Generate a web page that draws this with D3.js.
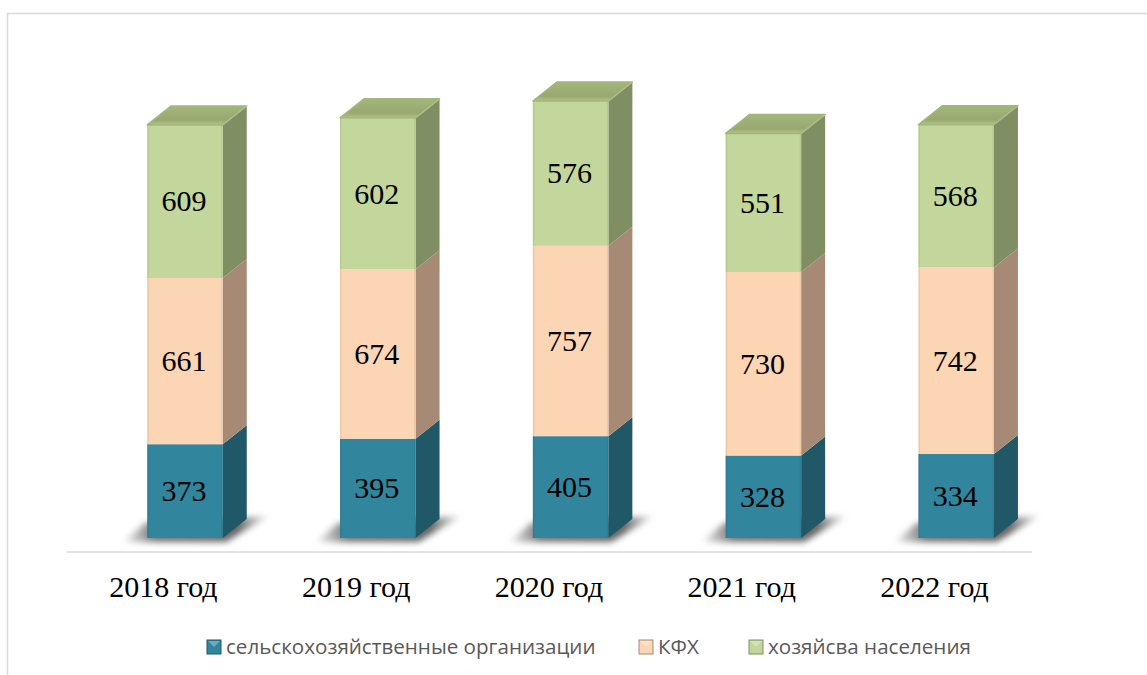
<!DOCTYPE html>
<html><head><meta charset="utf-8">
<script src="https://cdn.jsdelivr.net/npm/d3@7"></script>
<style>html,body{margin:0;padding:0;background:#fff;overflow:hidden}</style>
</head><body><svg id="c" width="1147" height="675"></svg>
<script>
const years = ["2018 год","2019 год","2020 год","2021 год","2022 год"];
const seriesNames = ["сельскохозяйственные организации","КФХ","хозяйсва населения"];
const orgValues = [373,395,405,328,334];
const kfhValues = [661,674,757,730,742];
const householdValues = [609,602,576,551,568];
const frontColors = ["#31859c","#fcd5b5","#c3d69b"];
const sideColors = ["#205867","#a68a75","#7f8f63"];
const topColors = ["#2a7186","#c9aa90","#9bac74"];

const svg = d3.select("#c");
const W = 75.5, DX = 24, DY = 19, SHIFT = 21.6;
const x = d3.scaleBand().domain(years).range([67,1031]);
const y = d3.scaleLinear().domain([0,1738]).range([538,101]);
const valueRows = [orgValues,kfhValues,householdValues];
const stacked = d3.stack().keys([0,1,2]).value((d,k)=>valueRows[k][d])(d3.range(years.length));
const left = i => x(years[i]) + x.bandwidth()/2 - W/2 + SHIFT;

const defs = svg.append("defs");
defs.append("filter").attr("id","blur").attr("x","-30%").attr("y","-60%").attr("width","160%").attr("height","220%")
  .append("feGaussianBlur").attr("stdDeviation",3.2);
const sg = defs.append("linearGradient").attr("id","shadowG").attr("x1",0).attr("x2",1).attr("y1",0).attr("y2",0);
sg.append("stop").attr("offset",0).attr("stop-color","#000").attr("stop-opacity",0.04);
sg.append("stop").attr("offset",0.22).attr("stop-color","#000").attr("stop-opacity",0.55);
sg.append("stop").attr("offset",0.78).attr("stop-color","#000").attr("stop-opacity",0.6);
sg.append("stop").attr("offset",1).attr("stop-color","#000").attr("stop-opacity",0.04);
const tg = defs.append("linearGradient").attr("id","topG").attr("x1",0).attr("x2",0).attr("y1",0).attr("y2",1);
tg.append("stop").attr("offset",0).attr("stop-color","#a4b57d");
tg.append("stop").attr("offset",0.75).attr("stop-color","#98a970");
tg.append("stop").attr("offset",1).attr("stop-color","#b3c489");

// frame
svg.append("path").attr("d","M7.5 675V13.5H1147").attr("fill","none").attr("stroke","#d9d9d9").attr("stroke-width",1.5);

// axis line
svg.append("line").attr("x1",67).attr("x2",1032).attr("y1",552).attr("y2",552).attr("stroke","#d9d9d9").attr("stroke-width",1.6);

// shadows
years.forEach((yr,i)=>{
  const l = left(i), b = y(0);
  svg.append("path")
    .attr("d",`M${l-24} ${b+4}L${l-2} ${b-15}L${l+W+DX+22} ${b-22}L${l+W+3} ${b+4}Z`)
    .attr("fill","url(#shadowG)").attr("filter","url(#blur)");
});

// bars
stacked.forEach((layer,s)=>{
  const g = svg.append("g");
  layer.forEach((d,i)=>{
    const l = left(i), t = y(d[1]), b = y(d[0]);
    g.append("path").attr("d",`M${l+W} ${t}L${l+W+DX} ${t-DY}L${l+W+DX} ${b-DY}L${l+W} ${b}Z`).attr("fill",sideColors[s]);
    g.append("rect").attr("x",l).attr("y",t).attr("width",W).attr("height",b-t).attr("fill",frontColors[s]);
    g.append("rect").attr("x",l).attr("y",t).attr("width",1.5).attr("height",b-t).attr("fill",topColors[s]).attr("opacity",.3);
    g.append("rect").attr("x",l+W-1.5).attr("y",t).attr("width",1.5).attr("height",b-t).attr("fill",topColors[s]).attr("opacity",.3);
    if(s===2){
      g.append("path").attr("d",`M${l} ${t}L${l+DX} ${t-DY}L${l+W+DX} ${t-DY}L${l+W} ${t}Z`)
        .attr("fill","url(#topG)").attr("stroke","#a4b57d").attr("stroke-width",1.5).attr("stroke-linejoin","round");
      g.append("path").attr("d",`M${l+W} ${t}L${l+W+DX} ${t-DY}`).attr("stroke","#b3c489").attr("stroke-width",1.2).attr("opacity",.7);
    }
    g.append("text").attr("x",l+W/2-1).attr("y",(t+b)/2+10).attr("text-anchor","middle")
      .attr("font-family","Liberation Serif").attr("font-size",30).attr("fill","#000").text(valueRows[s][i]);
  });
});

// category labels
const axis = d3.axisBottom(x).tickSize(0).tickPadding(0);
const ag = svg.append("g").attr("transform","translate(0,576)").call(axis);
ag.select(".domain").remove();
ag.selectAll("text").attr("font-family","Liberation Serif").attr("font-size",30).attr("fill","#000").attr("dy","0.71em");

// legend
const legendSwatchX = [207,639,749];
seriesNames.forEach((n,s)=>{
  const sx = legendSwatchX[s];
  svg.append("rect").attr("x",sx).attr("y",640).attr("width",14).attr("height",14).attr("fill",frontColors[s]).attr("stroke",sideColors[s]).attr("stroke-width",1);
  svg.append("path").attr("d",`M${sx+1} 641L${sx+13} 641L${sx+7} 647Z`).attr("fill","#fff").attr("opacity",.3);
  svg.append("text").attr("x",sx+19).attr("y",654).attr("font-family","Open Sans").attr("font-size",20.6).attr("fill","#595959").text(n);
});
</script></body></html>
